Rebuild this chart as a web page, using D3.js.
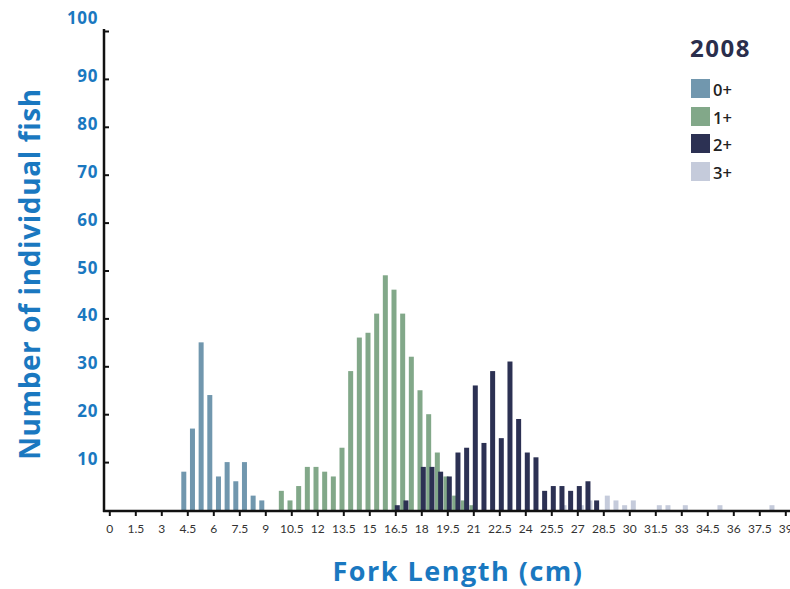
<!DOCTYPE html>
<html>
<head>
<meta charset="utf-8">
<script src="https://cdn.jsdelivr.net/npm/d3@7/dist/d3.min.js"></script>
<style>
  html, body { margin: 0; padding: 0; background: #ffffff; }
  svg { display: block; }
  text { font-family: "Open Sans", Lato, sans-serif; }
</style>
</head>
<body>
<svg id="chart" width="790" height="589"></svg>
<script>
// Fork length (cm) bins and fish counts for each age class, 2008 sample
const ageClasses = ["0+", "1+", "2+", "3+"];

const lengths0 = [4.5, 5, 5.5, 6, 6.5, 7, 7.5, 8, 8.5, 9];
const counts0  = [8, 17, 35, 24, 7, 10, 6, 10, 3, 2];

const lengths1 = [10, 10.5, 11, 11.5, 12, 12.5, 13, 13.5, 14, 14.5, 15, 15.5,
                  16, 16.5, 17, 17.5, 18, 18.5, 19, 19.5, 20, 20.5, 21];
const counts1  = [4, 2, 5, 9, 9, 8, 7, 13, 29, 36, 37, 41,
                  49, 46, 41, 32, 25, 20, 12, 7, 3, 2, 1];

const lengths2 = [16.5, 17, 18, 18.5, 19, 19.5, 20, 20.5, 21, 21.5, 22, 22.5,
                  23, 23.5, 24, 24.5, 25, 25.5, 26, 26.5, 27, 27.5, 28];
const counts2  = [1, 2, 9, 9, 8, 7, 12, 13, 26, 14, 29, 15,
                  31, 19, 12, 11, 4, 5, 5, 4, 5, 6, 2];

const lengths3 = [26, 27, 27.5, 28.5, 29, 29.5, 30, 31.5, 32, 33, 35, 38];
const counts3  = [1, 1, 2, 3, 2, 1, 2, 1, 1, 1, 1, 1];

const xTickValues = [0, 1.5, 3, 4.5, 6, 7.5, 9, 10.5, 12, 13.5, 15, 16.5, 18,
                     19.5, 21, 22.5, 24, 25.5, 27, 28.5, 30, 31.5, 33, 34.5,
                     36, 37.5, 39];
const yTickValues = [10, 20, 30, 40, 50, 60, 70, 80, 90, 100];

// Styling
const colors = { "0+": "#7197ae", "1+": "#82a889", "2+": "#2c3153", "3+": "#c5cbdb" };
const shift  = { "0+": -3.5, "1+": -1.3, "2+": 2, "3+": 4 };
const blue = "#1a78c0";
const barW = 5;

const svg = d3.select("#chart");

const x = d3.scaleLinear().domain([0, 39]).range([109.3, 785.3]);
const y = d3.scaleLinear().domain([0, 100]).range([510, 31]);

const seriesList = [
  { age: "3+", lengths: lengths3, counts: counts3 },
  { age: "0+", lengths: lengths0, counts: counts0 },
  { age: "1+", lengths: lengths1, counts: counts1 },
  { age: "2+", lengths: lengths2, counts: counts2 }
];

// Bars
seriesList.forEach(s => {
  const rows = s.lengths.map((len, i) => ({ len, count: s.counts[i] }));
  svg.append("g")
    .attr("class", "series-" + s.age)
    .selectAll("rect")
    .data(rows)
    .join("rect")
    .attr("x", d => x(d.len) + shift[s.age] - barW / 2)
    .attr("y", d => y(d.count))
    .attr("width", barW)
    .attr("height", d => y(0) - y(d.count))
    .attr("fill", colors[s.age]);
});

// Y axis: ticks point inward, bold blue labels
const yAxisG = svg.append("g")
  .attr("transform", "translate(104,0)")
  .call(d3.axisLeft(y).tickValues(yTickValues).tickSize(-5).tickPadding(6));
yAxisG.select(".domain").remove();
yAxisG.selectAll(".tick line").attr("stroke", "#111").attr("stroke-width", 2);
yAxisG.selectAll(".tick text")
  .attr("fill", blue)
  .style("font-size", "17px")
  .style("font-weight", "bold")
  .style("letter-spacing", "0.6px")
  .attr("dy", d => d === 100 ? "-0.45em" : "0.15em");
svg.append("line")
  .attr("x1", 104).attr("x2", 104)
  .attr("y1", 29).attr("y2", 512)
  .attr("stroke", "#111").attr("stroke-width", 2.5);

// X axis
const xAxisG = svg.append("g")
  .attr("transform", "translate(0,511)")
  .call(d3.axisBottom(x).tickValues(xTickValues).tickSize(5).tickPadding(8)
    .tickFormat(d => String(d)));
xAxisG.select(".domain").remove();
xAxisG.selectAll(".tick line").attr("stroke", "#111").attr("stroke-width", 2);
xAxisG.selectAll(".tick text")
  .attr("fill", "#333")
  .style("font-family", "Lato, sans-serif")
  .style("font-size", "12px");
svg.append("line")
  .attr("x1", 103).attr("x2", 790)
  .attr("y1", 511).attr("y2", 511)
  .attr("stroke", "#111").attr("stroke-width", 2.5);

// Axis titles
svg.append("text")
  .attr("transform", "translate(40,274) rotate(-90)")
  .attr("text-anchor", "middle")
  .attr("fill", blue)
  .style("font-size", "28px")
  .style("font-weight", "bold")
  .style("letter-spacing", "0.6px")
  .text("Number of individual fish");

svg.append("text")
  .attr("x", 458).attr("y", 581)
  .attr("text-anchor", "middle")
  .attr("fill", blue)
  .style("font-size", "27px")
  .style("font-weight", "bold")
  .style("letter-spacing", "1.5px")
  .text("Fork Length (cm)");

// Legend
const legend = svg.append("g").attr("transform", "translate(691,0)");
legend.append("text")
  .attr("x", -1).attr("y", 57)
  .attr("fill", "#2a2e4c")
  .style("font-size", "24px")
  .style("font-weight", "bold")
  .style("letter-spacing", "1.5px")
  .text("2008");
const legendY = [79, 107, 134, 162];
ageClasses.forEach((age, i) => {
  legend.append("rect")
    .attr("x", 0).attr("y", legendY[i])
    .attr("width", 19).attr("height", 19)
    .attr("fill", colors[age]);
  legend.append("text")
    .attr("x", 22).attr("y", legendY[i] + 17)
    .attr("fill", "#222")
    .style("font-size", "16.5px")
    .style("font-weight", "600")
    .text(age);
});
</script>
</body>
</html>
